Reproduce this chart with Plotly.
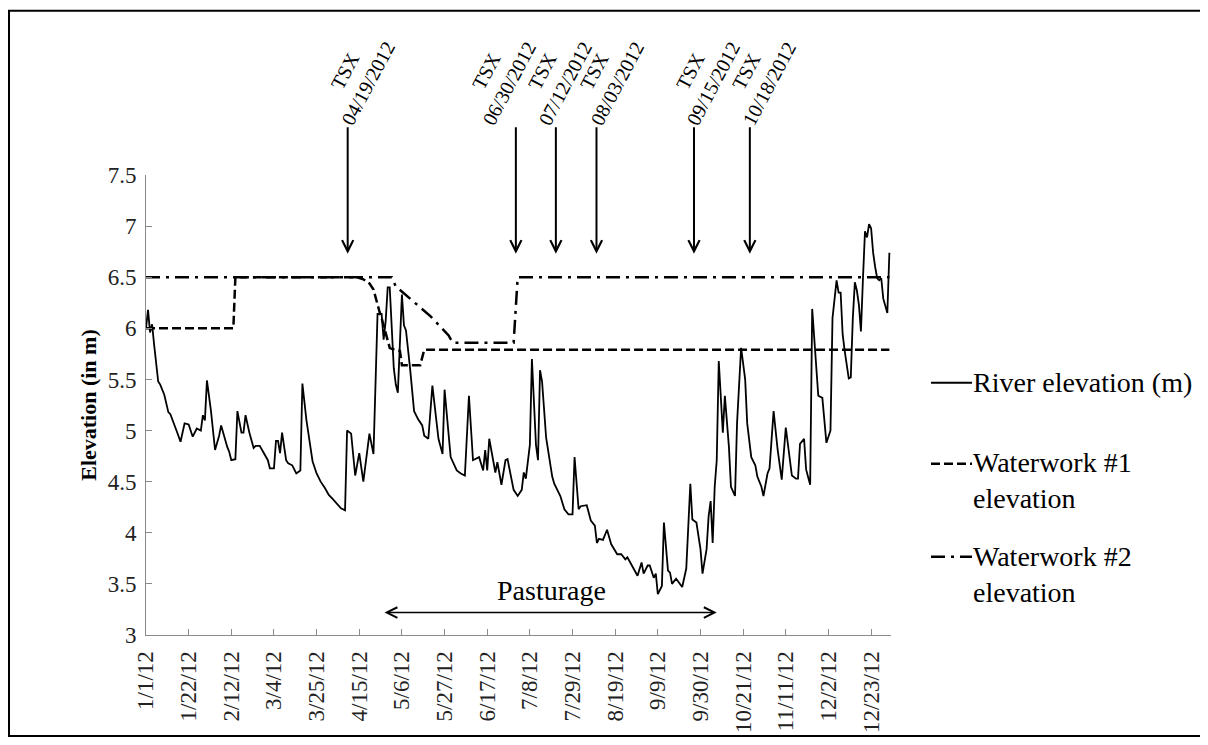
import plotly.graph_objects as go
import pandas as pd

START = pd.Timestamp("2012-01-01")

# ---------------- data (days counted from 1 Jan 2012) ----------------
river_day = [0, 1, 2, 3, 4, 6, 7, 9, 11, 12, 15, 17, 19, 21, 23, 25, 27, 28, 29, 30,
             32, 34, 36, 37, 40, 41, 42, 44, 45, 47, 48, 49, 51, 53, 54, 56, 58, 60, 61, 63,
             64, 65, 66, 67, 69, 70, 72, 74, 76, 77, 79, 81, 82, 84, 86, 88, 90, 92, 94, 96,
             98, 99, 101, 103, 105, 107, 110, 112, 114, 116, 117, 118, 119, 120, 122, 123, 124, 126, 127, 128,
             130, 132, 134, 136, 137, 139, 141, 144, 146, 147, 150, 153, 155, 157, 159, 161, 164, 166, 167, 168,
             169, 170, 172, 173, 175, 177, 178, 181, 183, 185, 186, 187, 189, 190, 192, 193, 194, 195, 197, 200,
             201, 204, 206, 208, 210, 211, 213, 214, 217, 219, 221, 222, 223, 225, 227, 229, 232, 234, 236, 237,
             240, 242, 244, 245, 247, 248, 250, 251, 252, 254, 255, 257, 258, 259, 261, 264, 266, 268, 269, 271,
             273, 274, 276, 277, 278, 279, 280, 281, 282, 284, 285, 287, 288, 290, 291, 293, 295, 296, 298, 300,
             301, 303, 304, 306, 307, 309, 311, 312, 313, 315, 317, 318, 320, 321, 322, 324, 325, 327, 328, 330,
             331, 333, 334, 335, 337, 338, 340, 341, 342, 343, 344, 346, 347, 348, 349, 350, 351, 352, 353, 354,
             355, 356, 357, 358, 359, 360, 361, 362, 363, 364, 365, 366]
river_elev = [6.00, 6.18, 5.96, 6.04, 5.84, 5.48, 5.45, 5.35, 5.18, 5.16, 5.00, 4.89, 5.07, 5.06, 4.94, 5.02, 5.00, 5.15, 5.10, 5.49,
              5.19, 4.81, 4.95, 5.05, 4.84, 4.79, 4.71, 4.72, 5.19, 4.98, 4.98, 5.15, 4.97, 4.83, 4.85, 4.85, 4.78, 4.71, 4.63, 4.63,
              4.90, 4.90, 4.78, 4.98, 4.71, 4.68, 4.66, 4.58, 4.61, 5.46, 5.10, 4.81, 4.70, 4.58, 4.50, 4.44, 4.37, 4.33, 4.29, 4.24,
              4.22, 5.00, 4.97, 4.56, 4.78, 4.50, 4.97, 4.77, 6.14, 6.14, 5.89, 6.07, 6.40, 6.40, 5.61, 5.45, 5.37, 6.33, 6.03, 5.98,
              5.61, 5.19, 5.11, 5.05, 4.95, 4.92, 5.44, 4.92, 4.77, 5.40, 4.74, 4.61, 4.58, 4.56, 5.34, 4.71, 4.74, 4.61, 4.81, 4.61,
              4.92, 4.81, 4.59, 4.69, 4.47, 4.71, 4.72, 4.42, 4.36, 4.42, 4.59, 4.53, 4.86, 5.70, 4.86, 4.71, 5.59, 5.48, 4.93, 4.55,
              4.48, 4.36, 4.23, 4.18, 4.18, 4.74, 4.23, 4.26, 4.27, 4.12, 4.07, 3.90, 3.94, 3.93, 4.03, 3.89, 3.79, 3.79, 3.74, 3.76,
              3.66, 3.58, 3.71, 3.60, 3.68, 3.68, 3.56, 3.60, 3.40, 3.48, 4.10, 3.63, 3.61, 3.50, 3.55, 3.47, 3.65, 4.48, 4.13, 4.10,
              3.84, 3.60, 3.84, 4.16, 4.31, 3.90, 4.45, 4.71, 5.68, 4.98, 5.34, 4.84, 4.45, 4.36, 5.07, 5.81, 5.50, 5.07, 4.74, 4.66,
              4.55, 4.45, 4.36, 4.58, 4.63, 5.19, 4.81, 4.65, 4.52, 5.03, 4.69, 4.56, 4.53, 4.53, 4.87, 4.92, 4.62, 4.47, 6.19, 5.61,
              5.34, 5.32, 5.07, 4.88, 5.00, 6.10, 6.47, 6.35, 6.35, 5.94, 5.78, 5.51, 5.52, 6.10, 6.45, 6.37, 6.23, 5.97, 6.49, 6.95,
              6.89, 7.02, 6.98, 6.74, 6.60, 6.49, 6.47, 6.49, 6.29, 6.23, 6.15, 6.74]

ww1_day = [0, 43, 44, 104, 107, 110, 112, 113, 115, 116, 118, 120, 121, 125, 126, 135, 137, 366]
ww1_elev = [6.0, 6.0, 6.5, 6.5, 6.48, 6.44, 6.38, 6.30, 6.16, 6.10, 5.94, 5.81, 5.80, 5.78, 5.64, 5.64, 5.79, 5.79]

ww2_day = [0, 121, 123, 130, 140, 149, 151, 181, 183, 366]
ww2_elev = [6.5, 6.5, 6.41, 6.29, 6.12, 5.93, 5.86, 5.86, 6.5, 6.5]

tick_day = [0, 21, 42, 63, 84, 105, 126, 147, 168, 189, 210, 231, 252, 273, 294, 315, 336, 357]
tick_text = ["1/1/12", "1/22/12", "2/12/12", "3/4/12", "3/25/12", "4/15/12", "5/6/12", "5/27/12",
             "6/17/12", "7/8/12", "7/29/12", "8/19/12", "9/9/12", "9/30/12", "10/21/12", "11/11/12",
             "12/2/12", "12/23/12"]

tsx_text = ["04/19/2012", "06/30/2012", "07/12/2012", "08/03/2012", "09/15/2012", "10/18/2012"]
tsx_arrow_day = [99.3, 182.1, 201.8, 221.8, 269.8, 297.3]
tsx_label_day = [103.7, 173.2, 200.8, 226.4, 273.7, 301.3]
tsx_arrow_tip = 6.73

pasture_start_day = 116.7
pasture_end_day = 281.0
pasture_level = 3.22
pasture_text_day = 199.7
pasture_text_level = 3.435

y_range = [3, 7.5]
x_range_days = [0, 366.8]


def to_date(d):
    return (START + pd.to_timedelta(d, unit="D")).strftime("%Y-%m-%d %H:%M:%S")


FONT = "Liberation Serif"
OFF = 8  # page body margin
W, H = 1208 - OFF, 745 - OFF
ML, MR, MT, MB = 146 - OFF, 317, 175 - OFF, 105
PW, PH = W - ML - MR, H - MT - MB


def px_x(p):
    return (p - OFF - ML) / PW


def px_y(p):
    return (H - MB - (p - OFF)) / PH


fig = go.Figure()
fig.add_trace(go.Scatter(x=[to_date(d) for d in river_day], y=river_elev, mode="lines",
                         name="River elevation (m)", line=dict(color="black", width=1.8),
                         showlegend=False))
fig.add_trace(go.Scatter(x=[to_date(d) for d in ww1_day], y=ww1_elev, mode="lines",
                         name="Waterwork #1 elevation",
                         line=dict(color="black", width=2.5, dash="9px,4px"), showlegend=False))
fig.add_trace(go.Scatter(x=[to_date(d) for d in ww2_day], y=ww2_elev, mode="lines",
                         name="Waterwork #2 elevation",
                         line=dict(color="black", width=2.5, dash="14px,6px,3px,6px"), showlegend=False))

annotations = []
# TSX arrows + labels
for txt, ad, ld in zip(tsx_text, tsx_arrow_day, tsx_label_day):
    annotations.append(dict(x=to_date(ad), y=tsx_arrow_tip, xref="x", yref="y", text="",
                            showarrow=True, ax=0, ay=-128, arrowhead=5, arrowsize=1.1,
                            arrowwidth=2, arrowcolor="black", standoff=0))
    annotations.append(dict(x=to_date(ld), y=px_y(76), xref="x", yref="paper",
                            text="TSX<br>" + txt, showarrow=False, textangle=-62,
                            xanchor="center", yanchor="middle", align="center",
                            font=dict(family=FONT, size=20, color="black")))

# Pasturage double arrow
annotations.append(dict(x=to_date(pasture_end_day), y=pasture_level, xref="x", yref="y",
                        ax=to_date(pasture_start_day), ay=pasture_level, axref="x", ayref="y",
                        text="", showarrow=True, arrowside="end+start", arrowhead=5,
                        startarrowhead=5, arrowsize=1.3, startarrowsize=1.3, arrowwidth=1.6,
                        arrowcolor="black", standoff=0, startstandoff=0))
annotations.append(dict(x=to_date(pasture_text_day), y=pasture_text_level, xref="x", yref="y",
                        text="Pasturage", showarrow=False,
                        font=dict(family=FONT, size=28, color="black")))

# Manual legend
legend_items = [("River elevation (m)", "solid", 385, 385),
                ("Waterwork #1<br>elevation", "9px,4px", 467, 484),
                ("Waterwork #2<br>elevation", "14px,6px,3px,6px", 561, 579)]
shapes = []
for label, dash, ly, ty in legend_items:
    shapes.append(dict(type="line", xref="paper", yref="paper", x0=px_x(931), x1=px_x(972),
                       y0=px_y(ly), y1=px_y(ly),
                       line=dict(color="black", width=2 if dash == "solid" else 2.5, dash=dash)))
    annotations.append(dict(x=px_x(971), y=px_y(ty), xref="paper", yref="paper", text=label,
                            showarrow=False, xanchor="left", yanchor="middle", align="left",
                            font=dict(family=FONT, size=28, color="black")))

# outer frame
shapes.append(dict(type="rect", xref="paper", yref="paper", x0=px_x(9), x1=px_x(1205),
                   y0=px_y(742), y1=px_y(9), line=dict(color="black", width=2),
                   fillcolor="rgba(0,0,0,0)", layer="above"))

fig.update_layout(
    width=W, height=H,
    margin=dict(l=ML, r=MR, t=MT, b=MB),
    paper_bgcolor="white", plot_bgcolor="white",
    font=dict(family=FONT, color="#222222"),
    showlegend=False,
    annotations=annotations,
    shapes=shapes,
    xaxis=dict(type="date", range=[to_date(x_range_days[0]), to_date(x_range_days[1])],
               tickmode="array", tickvals=[to_date(d) for d in tick_day], ticktext=tick_text,
               tickangle=-90, ticks="inside", ticklen=6, tickcolor="#8a8a8a",
               showline=True, linecolor="#8a8a8a", linewidth=1, showgrid=False, zeroline=False,
               tickfont=dict(family=FONT, size=23, color="#222222"), ticklabelstandoff=6),
    yaxis=dict(range=y_range, dtick=0.5, tick0=3, ticks="inside", ticklen=6, tickcolor="#8a8a8a",
               showline=True, linecolor="#8a8a8a", linewidth=1, showgrid=False, zeroline=False,
               tickfont=dict(family=FONT, size=23, color="#222222"), ticklabelstandoff=4,
               title=dict(text="<b>Elevation (in m)</b>", standoff=4,
                          font=dict(family=FONT, size=22, color="black"))),
)

fig.write_html("out.html")
